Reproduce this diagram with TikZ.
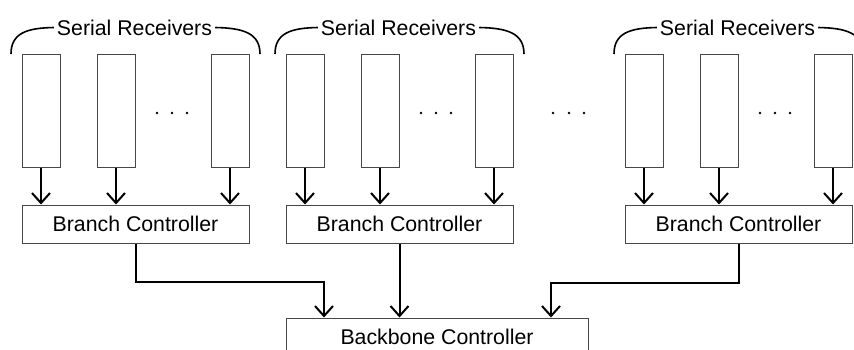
\documentclass[tikz,border=0pt]{standalone}
\usepackage{fontspec}
\setmainfont{Liberation Sans}
\usetikzlibrary{arrows.meta}
\begin{document}
\begin{tikzpicture}[x=1pt,y=-1pt,
  box/.style={draw=black!72, line width=1pt, fill=white, inner sep=0pt},
  rxbox/.style={box, minimum width=38pt, minimum height=113pt},
  ctlbox/.style={box, minimum width=227pt, minimum height=38pt,
                 font=\fontsize{21.3}{25}\selectfont},
  link/.style={line width=2pt, -{Straight Barb[length=10pt,width=18pt]}},
  brace/.style={line width=1.6pt},
  grouplabel/.style={font=\fontsize{21.3}{25}\selectfont, inner sep=0pt}]
  \useasboundingbox (0,0) rectangle (854,349);
  \clip (0,0) rectangle (854,349);

  % three receiver groups, each feeding a branch controller
  \foreach \g/\ox in {1/22, 2/286, 3/625} {
    \foreach \k/\dx in {1/0, 2/75, 3/189}
      \node[rxbox] (r\g\k) at (\ox+\dx+19, 110.5) {};
    \node[ctlbox] (b\g) at (\ox+113.5, 224) {Branch Controller};
    \foreach \k in {1,2,3}
      \draw[link] (r\g\k.south) -- (r\g\k.south |- b\g.north);
    % ellipsis between the second and last receiver
    \foreach \d in {135,150,165}
      \fill (\ox+\d, 113) circle (1.4pt);
    % bracket with its label above the receivers
    \node[grouplabel] (s\g) at (\ox+112.5, 27.5) {Serial Receivers};
    \draw[brace] (\ox-11, 54) .. controls (\ox-11, 33) and (\ox+5, 28)
      .. ([xshift=-3pt]s\g.west);
    \draw[brace] ([xshift=3pt]s\g.east) .. controls (\ox+221, 28) and (\ox+238, 33)
      .. (\ox+238, 54);
  }

  % ellipsis between the second and third group
  \foreach \x in {553,569,584}
    \fill (\x, 113) circle (1.4pt);

  % backbone controller collecting all branches
  \node[ctlbox, minimum width=302pt] (bb) at (437, 337) {Backbone Controller};
  \draw[link] (b1.south) -- ++(0,38) -| ([xshift=-113pt]bb.north);
  \draw[link] (b2.south) -- (b2.south |- bb.north);
  \draw[link] (b3.south) -- ++(0,39) -| ([xshift=114pt]bb.north);
\end{tikzpicture}
\end{document}
